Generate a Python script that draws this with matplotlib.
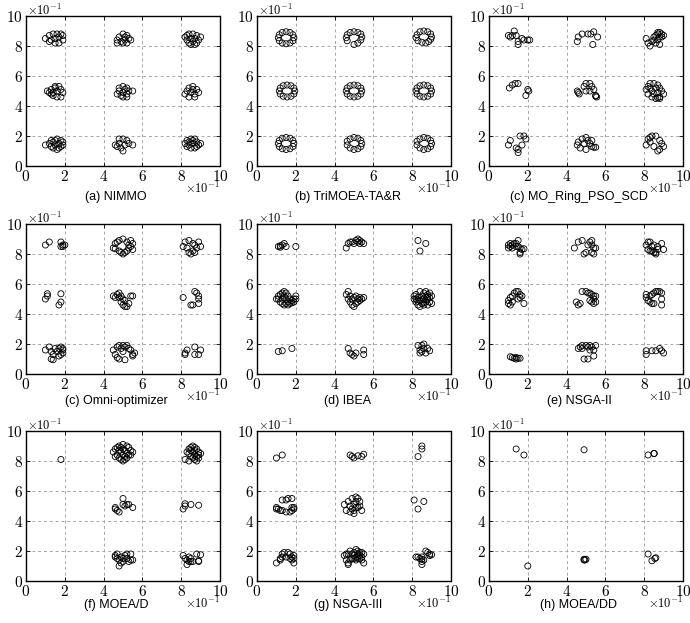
import matplotlib
matplotlib.use('Agg')
import matplotlib.pyplot as plt
from matplotlib.ticker import FuncFormatter

plt.rcParams['mathtext.fontset'] = 'cm'
plt.rcParams['font.family'] = ['Liberation Sans', 'DejaVu Sans']

# 数据：每个子图的解 (x, y)，读自原图
nimmo = [(0.10, 0.85), (0.12, 0.87), (0.14, 0.88), (0.16, 0.88), (0.18, 0.88), (0.13, 0.84), (0.15, 0.85),
         (0.17, 0.86), (0.19, 0.84), (0.15, 0.82), (0.17, 0.82), (0.12, 0.83), (0.19, 0.87),
         (0.47, 0.84), (0.48, 0.86), (0.50, 0.88), (0.52, 0.87), (0.54, 0.84), (0.49, 0.83), (0.51, 0.84),
         (0.53, 0.85), (0.50, 0.82), (0.52, 0.82), (0.47, 0.82), (0.51, 0.86),
         (0.82, 0.86), (0.84, 0.88), (0.86, 0.88), (0.88, 0.87), (0.83, 0.84), (0.85, 0.85), (0.87, 0.85),
         (0.89, 0.84), (0.84, 0.82), (0.86, 0.83), (0.88, 0.82), (0.85, 0.81), (0.87, 0.81), (0.83, 0.87), (0.90, 0.86),
         (0.11, 0.50), (0.13, 0.51), (0.15, 0.52), (0.17, 0.53), (0.12, 0.49), (0.14, 0.49), (0.16, 0.50),
         (0.18, 0.51), (0.19, 0.49), (0.14, 0.47), (0.16, 0.46), (0.18, 0.46), (0.15, 0.53), (0.13, 0.48),
         (0.47, 0.48), (0.48, 0.50), (0.48, 0.52), (0.50, 0.53), (0.52, 0.52), (0.53, 0.50), (0.55, 0.50),
         (0.50, 0.49), (0.52, 0.48), (0.50, 0.46), (0.52, 0.46), (0.49, 0.47), (0.51, 0.51),
         (0.82, 0.48), (0.83, 0.50), (0.84, 0.52), (0.86, 0.53), (0.88, 0.51), (0.89, 0.49), (0.85, 0.49),
         (0.87, 0.48), (0.84, 0.46), (0.87, 0.46), (0.86, 0.51),
         (0.10, 0.14), (0.12, 0.15), (0.14, 0.16), (0.16, 0.18), (0.18, 0.17), (0.13, 0.13), (0.15, 0.14),
         (0.17, 0.15), (0.19, 0.14), (0.14, 0.12), (0.16, 0.11), (0.18, 0.13), (0.15, 0.17), (0.17, 0.12),
         (0.13, 0.17), (0.19, 0.16),
         (0.46, 0.14), (0.48, 0.18), (0.50, 0.18), (0.52, 0.17), (0.48, 0.15), (0.51, 0.14), (0.53, 0.15),
         (0.55, 0.14), (0.49, 0.12), (0.50, 0.10), (0.47, 0.13),
         (0.82, 0.15), (0.83, 0.17), (0.85, 0.18), (0.87, 0.18), (0.88, 0.16), (0.89, 0.14), (0.84, 0.14),
         (0.86, 0.15), (0.88, 0.13), (0.83, 0.13), (0.85, 0.12), (0.87, 0.12), (0.86, 0.17), (0.84, 0.16), (0.90, 0.15)]

trimoea = [(0.19, 0.855), (0.185, 0.875), (0.17, 0.89), (0.15, 0.895), (0.13, 0.89), (0.115, 0.875),
           (0.11, 0.855), (0.115, 0.835), (0.13, 0.82), (0.15, 0.815), (0.17, 0.82), (0.185, 0.835),
           (0.54, 0.86), (0.535, 0.88), (0.52, 0.89), (0.50, 0.895), (0.48, 0.89), (0.465, 0.875),
           (0.46, 0.855), (0.465, 0.835), (0.50, 0.81), (0.52, 0.82), (0.535, 0.84),
           (0.90, 0.86), (0.895, 0.88), (0.88, 0.895), (0.86, 0.90), (0.84, 0.895), (0.825, 0.875),
           (0.82, 0.855), (0.83, 0.835), (0.85, 0.825), (0.87, 0.82), (0.885, 0.83), (0.895, 0.845),
           (0.195, 0.50), (0.19, 0.52), (0.175, 0.535), (0.155, 0.54), (0.135, 0.535), (0.12, 0.52),
           (0.115, 0.50), (0.12, 0.48), (0.135, 0.465), (0.155, 0.46), (0.175, 0.465), (0.19, 0.48),
           (0.54, 0.50), (0.535, 0.52), (0.52, 0.535), (0.50, 0.54), (0.48, 0.535), (0.465, 0.52),
           (0.46, 0.50), (0.465, 0.48), (0.48, 0.465), (0.50, 0.46), (0.52, 0.465), (0.535, 0.48),
           (0.90, 0.50), (0.895, 0.52), (0.88, 0.535), (0.86, 0.54), (0.84, 0.535), (0.825, 0.52),
           (0.82, 0.50), (0.825, 0.48), (0.84, 0.465), (0.86, 0.46), (0.88, 0.465), (0.895, 0.48),
           (0.19, 0.15), (0.185, 0.17), (0.17, 0.185), (0.15, 0.19), (0.13, 0.185), (0.115, 0.17),
           (0.11, 0.15), (0.115, 0.13), (0.13, 0.115), (0.15, 0.11), (0.17, 0.115), (0.185, 0.13),
           (0.54, 0.15), (0.535, 0.17), (0.52, 0.185), (0.50, 0.19), (0.48, 0.18), (0.465, 0.165),
           (0.465, 0.14), (0.48, 0.12), (0.50, 0.11), (0.52, 0.115), (0.535, 0.13),
           (0.90, 0.15), (0.895, 0.17), (0.88, 0.185), (0.86, 0.19), (0.84, 0.18), (0.825, 0.165),
           (0.825, 0.14), (0.84, 0.12), (0.86, 0.11), (0.88, 0.115), (0.895, 0.13)]

mo_ring = [(0.10, 0.87), (0.11, 0.86), (0.12, 0.87), (0.13, 0.90), (0.14, 0.87), (0.15, 0.83), (0.15, 0.81),
           (0.17, 0.85), (0.18, 0.84), (0.20, 0.84), (0.21, 0.84),
           (0.455, 0.83), (0.46, 0.86), (0.48, 0.88), (0.51, 0.88), (0.525, 0.88), (0.54, 0.895),
           (0.535, 0.81), (0.56, 0.86),
           (0.81, 0.85), (0.82, 0.82), (0.83, 0.80), (0.84, 0.83), (0.85, 0.86), (0.86, 0.87), (0.87, 0.88),
           (0.88, 0.89), (0.89, 0.88), (0.88, 0.86), (0.87, 0.84), (0.86, 0.82), (0.88, 0.81), (0.89, 0.86),
           (0.90, 0.87), (0.87, 0.89), (0.85, 0.84),
           (0.105, 0.52), (0.12, 0.54), (0.135, 0.55), (0.15, 0.55), (0.20, 0.51), (0.205, 0.50), (0.19, 0.47),
           (0.455, 0.50), (0.46, 0.49), (0.465, 0.48), (0.49, 0.53), (0.50, 0.55), (0.52, 0.55), (0.53, 0.53),
           (0.54, 0.51), (0.50, 0.50), (0.52, 0.50), (0.55, 0.47), (0.555, 0.46), (0.55, 0.465),
           (0.81, 0.51), (0.82, 0.53), (0.83, 0.55), (0.85, 0.55), (0.87, 0.54), (0.88, 0.52), (0.89, 0.50),
           (0.90, 0.48), (0.88, 0.46), (0.86, 0.45), (0.84, 0.46), (0.82, 0.48), (0.84, 0.50), (0.86, 0.52),
           (0.87, 0.49), (0.85, 0.48), (0.83, 0.52), (0.88, 0.45), (0.87, 0.455),
           (0.10, 0.14), (0.11, 0.17), (0.14, 0.12), (0.15, 0.11), (0.15, 0.09), (0.16, 0.20), (0.18, 0.20),
           (0.19, 0.18), (0.17, 0.14),
           (0.455, 0.14), (0.46, 0.16), (0.47, 0.12), (0.48, 0.18), (0.50, 0.19), (0.51, 0.17), (0.52, 0.15),
           (0.50, 0.11), (0.53, 0.13), (0.54, 0.125), (0.55, 0.125), (0.53, 0.17), (0.49, 0.15),
           (0.81, 0.14), (0.82, 0.18), (0.83, 0.19), (0.84, 0.20), (0.86, 0.20), (0.88, 0.17), (0.89, 0.15),
           (0.90, 0.13), (0.87, 0.10), (0.88, 0.11), (0.85, 0.13), (0.83, 0.16)]

omni = [(0.10, 0.86), (0.12, 0.88), (0.18, 0.88), (0.19, 0.86), (0.18, 0.85), (0.19, 0.85), (0.20, 0.86),
        (0.45, 0.84), (0.46, 0.87), (0.47, 0.88), (0.48, 0.82), (0.49, 0.81), (0.50, 0.80), (0.51, 0.81),
        (0.52, 0.82), (0.53, 0.86), (0.54, 0.89), (0.50, 0.90), (0.52, 0.88), (0.54, 0.85), (0.55, 0.83),
        (0.55, 0.87), (0.46, 0.835), (0.53, 0.84), (0.48, 0.89),
        (0.81, 0.85), (0.82, 0.88), (0.83, 0.84), (0.84, 0.81), (0.85, 0.80), (0.86, 0.87), (0.87, 0.86),
        (0.87, 0.81), (0.88, 0.84), (0.89, 0.88), (0.90, 0.85), (0.84, 0.89), (0.86, 0.82),
        (0.10, 0.50), (0.11, 0.52), (0.11, 0.535), (0.18, 0.535), (0.18, 0.48), (0.17, 0.46),
        (0.45, 0.52), (0.46, 0.51), (0.47, 0.53), (0.48, 0.54), (0.49, 0.52), (0.50, 0.50), (0.49, 0.48),
        (0.50, 0.46), (0.51, 0.45), (0.52, 0.45), (0.53, 0.47), (0.54, 0.52), (0.48, 0.51), (0.51, 0.49), (0.55, 0.52),
        (0.81, 0.51), (0.85, 0.46), (0.86, 0.46), (0.87, 0.55), (0.88, 0.54), (0.89, 0.52), (0.89, 0.50), (0.89, 0.47),
        (0.10, 0.16), (0.12, 0.18), (0.13, 0.15), (0.14, 0.13), (0.15, 0.17), (0.16, 0.15), (0.17, 0.17),
        (0.18, 0.18), (0.19, 0.16), (0.18, 0.13), (0.17, 0.12), (0.13, 0.10), (0.14, 0.095), (0.19, 0.14), (0.19, 0.17),
        (0.45, 0.16), (0.46, 0.13), (0.47, 0.11), (0.48, 0.10), (0.47, 0.18), (0.48, 0.19), (0.50, 0.19),
        (0.51, 0.18), (0.52, 0.19), (0.53, 0.17), (0.50, 0.15), (0.51, 0.095), (0.54, 0.16), (0.55, 0.13),
        (0.56, 0.14), (0.49, 0.17), (0.55, 0.12),
        (0.82, 0.14), (0.83, 0.16), (0.82, 0.13), (0.87, 0.18), (0.87, 0.13), (0.89, 0.13), (0.90, 0.16)]

ibea = [(0.11, 0.85), (0.12, 0.855), (0.12, 0.845), (0.13, 0.86), (0.14, 0.87), (0.15, 0.85), (0.20, 0.85),
        (0.46, 0.84), (0.47, 0.87), (0.48, 0.88), (0.50, 0.87), (0.51, 0.89), (0.52, 0.90), (0.53, 0.89),
        (0.54, 0.88), (0.55, 0.87), (0.49, 0.88), (0.53, 0.87), (0.52, 0.88),
        (0.83, 0.89), (0.84, 0.82), (0.87, 0.87),
        (0.10, 0.50), (0.11, 0.52), (0.12, 0.53), (0.13, 0.54), (0.14, 0.55), (0.15, 0.54), (0.16, 0.52),
        (0.17, 0.50), (0.18, 0.49), (0.19, 0.50), (0.20, 0.52), (0.12, 0.48), (0.13, 0.47), (0.14, 0.46),
        (0.15, 0.47), (0.16, 0.48), (0.17, 0.47), (0.18, 0.475), (0.11, 0.50), (0.13, 0.50), (0.15, 0.50),
        (0.14, 0.52), (0.16, 0.46), (0.19, 0.48), (0.20, 0.50),
        (0.46, 0.53), (0.47, 0.55), (0.47, 0.50), (0.48, 0.48), (0.49, 0.46), (0.50, 0.45), (0.51, 0.47),
        (0.52, 0.50), (0.53, 0.51), (0.54, 0.50), (0.55, 0.51), (0.48, 0.52), (0.50, 0.51), (0.51, 0.52),
        (0.52, 0.48), (0.49, 0.50), (0.53, 0.49),
        (0.81, 0.50), (0.81, 0.52), (0.82, 0.48), (0.82, 0.53), (0.83, 0.46), (0.83, 0.51), (0.84, 0.55),
        (0.84, 0.49), (0.84, 0.45), (0.85, 0.52), (0.85, 0.47), (0.86, 0.54), (0.86, 0.50), (0.86, 0.46),
        (0.87, 0.55), (0.87, 0.52), (0.87, 0.48), (0.88, 0.53), (0.88, 0.50), (0.88, 0.46), (0.89, 0.54),
        (0.89, 0.51), (0.89, 0.48), (0.90, 0.52), (0.90, 0.47), (0.82, 0.50), (0.83, 0.485), (0.85, 0.495),
        (0.86, 0.475), (0.88, 0.515),
        (0.11, 0.15), (0.13, 0.155), (0.18, 0.17),
        (0.47, 0.17), (0.48, 0.14), (0.49, 0.13), (0.50, 0.12), (0.51, 0.14), (0.55, 0.13), (0.55, 0.16),
        (0.83, 0.19), (0.84, 0.16), (0.84, 0.14), (0.85, 0.19), (0.86, 0.20), (0.86, 0.17), (0.87, 0.14),
        (0.88, 0.17), (0.89, 0.155), (0.85, 0.15)]

nsga2 = [(0.10, 0.84), (0.10, 0.86), (0.11, 0.87), (0.12, 0.86), (0.13, 0.87), (0.14, 0.87), (0.15, 0.89),
         (0.15, 0.85), (0.16, 0.84), (0.16, 0.81), (0.16, 0.80), (0.17, 0.83), (0.18, 0.835), (0.12, 0.84),
         (0.14, 0.85), (0.11, 0.85),
         (0.44, 0.84), (0.46, 0.88), (0.48, 0.89), (0.49, 0.80), (0.50, 0.81), (0.51, 0.86), (0.52, 0.88),
         (0.53, 0.89), (0.53, 0.81), (0.54, 0.80), (0.54, 0.84), (0.55, 0.84), (0.53, 0.86),
         (0.81, 0.86), (0.82, 0.83), (0.82, 0.88), (0.83, 0.88), (0.84, 0.85), (0.84, 0.82), (0.85, 0.81),
         (0.86, 0.81), (0.86, 0.80), (0.87, 0.83), (0.87, 0.85), (0.89, 0.87), (0.90, 0.83), (0.85, 0.86), (0.83, 0.82),
         (0.10, 0.49), (0.10, 0.47), (0.11, 0.51), (0.12, 0.52), (0.13, 0.54), (0.14, 0.55), (0.15, 0.55),
         (0.16, 0.53), (0.16, 0.51), (0.15, 0.50), (0.17, 0.52), (0.18, 0.47), (0.11, 0.46), (0.12, 0.48),
         (0.45, 0.48), (0.46, 0.46), (0.47, 0.47), (0.48, 0.55), (0.50, 0.55), (0.51, 0.54), (0.52, 0.54),
         (0.53, 0.53), (0.54, 0.52), (0.54, 0.50), (0.53, 0.48), (0.54, 0.47), (0.52, 0.49), (0.55, 0.48), (0.55, 0.52),
         (0.81, 0.53), (0.81, 0.51), (0.82, 0.49), (0.83, 0.48), (0.84, 0.47), (0.85, 0.47), (0.84, 0.53),
         (0.85, 0.54), (0.86, 0.55), (0.87, 0.55), (0.88, 0.55), (0.89, 0.54), (0.89, 0.50), (0.89, 0.46), (0.83, 0.52),
         (0.11, 0.115), (0.12, 0.11), (0.13, 0.105), (0.14, 0.10), (0.15, 0.105), (0.16, 0.105), (0.14, 0.11),
         (0.46, 0.17), (0.47, 0.18), (0.48, 0.19), (0.48, 0.17), (0.50, 0.19), (0.51, 0.18), (0.52, 0.19),
         (0.53, 0.18), (0.54, 0.16), (0.55, 0.19), (0.49, 0.10), (0.51, 0.10), (0.54, 0.12), (0.52, 0.16),
         (0.81, 0.155), (0.81, 0.13), (0.84, 0.155), (0.86, 0.155), (0.88, 0.17), (0.89, 0.155), (0.90, 0.14)]

moead = [(0.18, 0.81),
         (0.45, 0.86), (0.46, 0.88), (0.47, 0.89), (0.48, 0.90), (0.50, 0.91), (0.52, 0.90), (0.53, 0.89),
         (0.54, 0.87), (0.55, 0.86), (0.47, 0.84), (0.48, 0.82), (0.49, 0.81), (0.50, 0.80), (0.51, 0.81),
         (0.52, 0.82), (0.53, 0.84), (0.49, 0.86), (0.50, 0.84), (0.51, 0.87), (0.52, 0.85), (0.48, 0.87),
         (0.50, 0.88), (0.46, 0.83), (0.54, 0.84), (0.51, 0.83), (0.49, 0.89),
         (0.82, 0.81), (0.83, 0.86), (0.84, 0.88), (0.85, 0.89), (0.86, 0.90), (0.87, 0.89), (0.88, 0.88),
         (0.89, 0.86), (0.90, 0.85), (0.84, 0.85), (0.85, 0.83), (0.86, 0.82), (0.87, 0.81), (0.88, 0.80),
         (0.89, 0.82), (0.86, 0.86), (0.87, 0.84), (0.88, 0.83), (0.85, 0.87), (0.89, 0.84), (0.84, 0.80), (0.87, 0.87),
         (0.46, 0.49), (0.46, 0.48), (0.47, 0.47), (0.48, 0.46), (0.50, 0.55), (0.50, 0.51), (0.51, 0.50),
         (0.52, 0.51), (0.53, 0.51), (0.55, 0.49),
         (0.81, 0.48), (0.82, 0.50), (0.82, 0.515), (0.85, 0.51), (0.89, 0.505),
         (0.46, 0.16), (0.46, 0.17), (0.47, 0.15), (0.47, 0.18), (0.48, 0.14), (0.48, 0.10), (0.49, 0.16),
         (0.50, 0.15), (0.51, 0.17), (0.52, 0.18), (0.53, 0.13), (0.54, 0.14), (0.54, 0.18), (0.55, 0.14),
         (0.50, 0.13), (0.52, 0.15), (0.49, 0.12),
         (0.81, 0.17), (0.82, 0.15), (0.83, 0.11), (0.83, 0.14), (0.84, 0.16), (0.85, 0.15), (0.85, 0.13),
         (0.86, 0.13), (0.88, 0.18), (0.89, 0.13), (0.89, 0.135), (0.90, 0.175), (0.84, 0.13)]

nsga3 = [(0.10, 0.82), (0.13, 0.84),
         (0.48, 0.84), (0.49, 0.83), (0.50, 0.82), (0.52, 0.835), (0.54, 0.83), (0.55, 0.845),
         (0.83, 0.83), (0.85, 0.88), (0.85, 0.90),
         (0.10, 0.49), (0.10, 0.48), (0.11, 0.48), (0.12, 0.47), (0.13, 0.47), (0.13, 0.54), (0.15, 0.54),
         (0.16, 0.55), (0.15, 0.46), (0.17, 0.46), (0.18, 0.55), (0.18, 0.49), (0.19, 0.48), (0.18, 0.47), (0.19, 0.49),
         (0.45, 0.51), (0.46, 0.47), (0.47, 0.53), (0.48, 0.50), (0.49, 0.55), (0.49, 0.48), (0.50, 0.47),
         (0.50, 0.51), (0.51, 0.56), (0.51, 0.53), (0.52, 0.49), (0.52, 0.55), (0.53, 0.53), (0.53, 0.50),
         (0.54, 0.47), (0.50, 0.45), (0.48, 0.46), (0.51, 0.49),
         (0.81, 0.54), (0.83, 0.48), (0.86, 0.53),
         (0.10, 0.12), (0.12, 0.15), (0.13, 0.18), (0.14, 0.19), (0.15, 0.16), (0.16, 0.19), (0.17, 0.15),
         (0.18, 0.14), (0.18, 0.16), (0.19, 0.15), (0.19, 0.17), (0.19, 0.12), (0.17, 0.18), (0.12, 0.14), (0.13, 0.16),
         (0.45, 0.17), (0.46, 0.14), (0.47, 0.12), (0.47, 0.18), (0.48, 0.20), (0.49, 0.15), (0.49, 0.18),
         (0.50, 0.17), (0.50, 0.19), (0.51, 0.14), (0.51, 0.16), (0.51, 0.21), (0.52, 0.18), (0.52, 0.15),
         (0.53, 0.17), (0.53, 0.19), (0.54, 0.16), (0.54, 0.14), (0.55, 0.18), (0.55, 0.12), (0.48, 0.14),
         (0.50, 0.15), (0.52, 0.20), (0.53, 0.15), (0.46, 0.18), (0.54, 0.19), (0.47, 0.11),
         (0.82, 0.16), (0.83, 0.16), (0.84, 0.15), (0.85, 0.16), (0.85, 0.13), (0.85, 0.11), (0.86, 0.14),
         (0.87, 0.20), (0.88, 0.19), (0.89, 0.18), (0.89, 0.17), (0.90, 0.175), (0.85, 0.145)]

moeadd = [(0.14, 0.88), (0.18, 0.84), (0.49, 0.875), (0.82, 0.84), (0.85, 0.85), (0.852, 0.85),
          (0.49, 0.145), (0.495, 0.14), (0.50, 0.145), (0.49, 0.14), (0.20, 0.10),
          (0.82, 0.18), (0.84, 0.135), (0.86, 0.155), (0.855, 0.15)]

captions = ['(a) NIMMO', '(b) TriMOEA-TA&R', '(c) MO_Ring_PSO_SCD',
            '(c) Omni-optimizer', '(d) IBEA', '(e) NSGA-II',
            '(f) MOEA/D', '(g) NSGA-III', '(h) MOEA/DD']
panels = [nimmo, trimoea, mo_ring, omni, ibea, nsga2, moead, nsga3, moeadd]
ticks = [0, 0.2, 0.4, 0.6, 0.8, 1.0]

fig = plt.figure(figsize=(6.9, 6.23), dpi=100)
W, H = 690.0, 623.0
lefts = [26, 257, 489]
tops = [16, 224, 431]
cap_x = [116, 348, 579]
cap_y = [197, 401, 605]
fmt = FuncFormatter(lambda v, p: r'$\mathrm{%d}$' % round(v * 10))

for i, (pts, cap) in enumerate(zip(panels, captions)):
    r, c = divmod(i, 3)
    ax = fig.add_axes([lefts[c] / W, 1 - (tops[r] + 150) / H, 194 / W, 150 / H])
    xs, ys = zip(*pts)
    ax.scatter(xs, ys, s=19, facecolors='none', edgecolors='black', linewidths=0.6, zorder=3)
    ax.set_xlim(0, 1)
    ax.set_ylim(0, 1)
    ax.set_xticks(ticks)
    ax.set_yticks(ticks)
    ax.xaxis.set_major_formatter(fmt)
    ax.yaxis.set_major_formatter(fmt)
    ax.tick_params(direction='in', length=3, width=0.6, labelsize=11, pad=2, top=True, right=True)
    ax.grid(True, color='0.65', linestyle=(0, (3, 3)), linewidth=0.7)
    for sp in ax.spines.values():
        sp.set_linewidth(1.0)
        sp.set_linestyle((0, (4, 1)))
    ax.text(0.005, 1.0 + 1 / 150, r'$\times10^{-1}$', transform=ax.transAxes,
            ha='left', va='baseline', fontsize=9)
    ax.text(1.0, -27 / 150, r'$\times10^{-1}$', transform=ax.transAxes,
            ha='right', va='baseline', fontsize=9)
    fig.text(cap_x[c] / W, 1 - cap_y[r] / H, cap, ha='center', va='center', fontsize=9)

fig.savefig('out.png', dpi=100)
